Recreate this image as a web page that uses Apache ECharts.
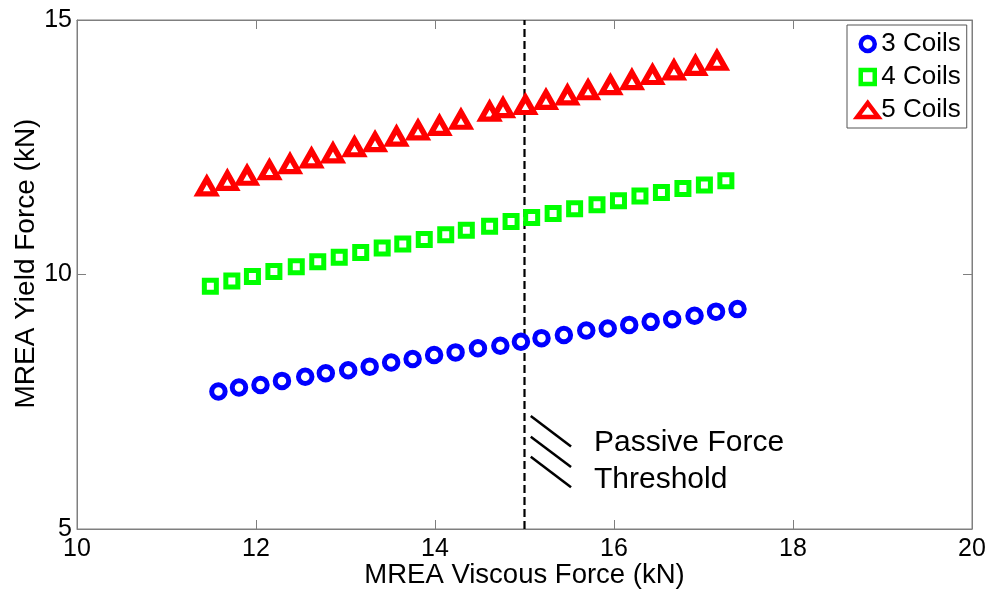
<!DOCTYPE html>
<html>
<head>
<meta charset="utf-8">
<title>MREA Yield vs Viscous Force</title>
<script src="https://cdn.jsdelivr.net/npm/echarts@6/dist/echarts.min.js"></script>
<style>
  html, body { margin: 0; padding: 0; background: #fff; }
  #chart { width: 992px; height: 593px; }
</style>
</head>
<body>
<div id="chart"></div>
<script>
// values (kN)
const coils3X = [11.58, 11.81, 12.05, 12.29, 12.55, 12.78, 13.03, 13.27, 13.51, 13.75, 13.99, 14.23, 14.48, 14.73, 14.96, 15.19, 15.44, 15.69, 15.93, 16.17, 16.41, 16.65, 16.90, 17.14, 17.38]
const coils3Y = [7.70, 7.78, 7.83, 7.91, 7.99, 8.06, 8.12, 8.19, 8.27, 8.34, 8.42, 8.47, 8.55, 8.60, 8.68, 8.75, 8.81, 8.90, 8.94, 9.01, 9.07, 9.12, 9.19, 9.27, 9.32]

const coils4X = [11.49, 11.73, 11.96, 12.20, 12.45, 12.69, 12.93, 13.17, 13.41, 13.64, 13.88, 14.12, 14.35, 14.61, 14.85, 15.08, 15.32, 15.56, 15.81, 16.05, 16.29, 16.53, 16.77, 17.01, 17.25]
const coils4Y = [9.77, 9.87, 9.96, 10.06, 10.15, 10.25, 10.34, 10.43, 10.52, 10.60, 10.69, 10.78, 10.87, 10.95, 11.04, 11.12, 11.20, 11.29, 11.37, 11.45, 11.54, 11.61, 11.69, 11.76, 11.84]

const coils5X = [11.45, 11.68, 11.90, 12.15, 12.38, 12.62, 12.86, 13.10, 13.33, 13.57, 13.81, 14.05, 14.29, 14.61, 14.76, 15.01, 15.24, 15.48, 15.71, 15.96, 16.20, 16.43, 16.67, 16.91, 17.15]
const coils5Y = [11.73, 11.84, 11.94, 12.05, 12.17, 12.28, 12.38, 12.50, 12.60, 12.71, 12.83, 12.92, 13.04, 13.20, 13.27, 13.33, 13.43, 13.52, 13.62, 13.72, 13.82, 13.92, 14.01, 14.10, 14.20]

const seriesNames = ['3 Coils', '4 Coils', '5 Coils']
const thresholdX = 15
const xTicks = [10, 12, 14, 16, 18, 20]
const yTicks = [5, 10, 15]

// little hatch marks next to the threshold note
const hatchLines = [
  [[15.07, 7.22], [15.52, 6.62]],
  [[15.07, 6.81], [15.52, 6.22]],
  [[15.07, 6.42], [15.52, 5.82]]
]

const zip = (xs, ys) => xs.map((x, i) => [x, ys[i]])

const font = 'Liberation Sans, Arial, sans-serif'
const axisGray = '#7f7f7f'

const chart = echarts.init(document.getElementById('chart'))

const hatchSeries = hatchLines.map(seg => ({
  type: 'line',
  data: seg,
  symbol: 'none',
  silent: true,
  lineStyle: { color: '#000', width: 2.5 },
  z: 1
}))

chart.setOption({
  animation: false,
  textStyle: { fontFamily: font },
  grid: {
    left: 77, right: 20, top: 20, bottom: 64,
    outerBoundsMode: 'none',
    show: true, borderColor: axisGray, borderWidth: 1
  },
  legend: {
    data: [
      { name: seriesNames[0] },
      { name: seriesNames[1], icon: 'path://M0,0h10v10h-10z' },
      { name: seriesNames[2] }
    ],
    orient: 'vertical',
    left: 847,
    top: 25,
    padding: [6, 6, 5, 8],
    itemGap: 7,
    itemWidth: 21,
    itemHeight: 14,
    borderColor: '#555',
    borderWidth: 1,
    backgroundColor: '#fff',
    itemStyle: { borderWidth: 4.5 },
    textStyle: { fontSize: 26, color: '#000', fontFamily: font, padding: [0, 0, 0, -2] }
  },
  graphic: [
    {
      type: 'text',
      left: 594,
      top: 428,
      style: { text: 'Passive Force', fontSize: 30, fontFamily: font, fill: '#000' }
    },
    {
      type: 'text',
      left: 594,
      top: 465,
      style: { text: 'Threshold', fontSize: 30, fontFamily: font, fill: '#000' }
    }
  ],
  xAxis: [
    {
      type: 'value',
      min: xTicks[0],
      max: xTicks[xTicks.length - 1],
      interval: 2,
      name: 'MREA Viscous Force (kN)',
      nameLocation: 'middle',
      nameGap: 32,
      nameMoveOverlap: false,
      nameTextStyle: { fontSize: 27.5, color: '#000', fontFamily: font },
      axisLine: { lineStyle: { color: axisGray } },
      axisTick: { inside: true, length: 9, lineStyle: { color: axisGray } },
      axisLabel: { fontSize: 25, color: '#000', margin: 8, fontFamily: font },
      splitLine: { show: false }
    },
    {
      type: 'value',
      position: 'top',
      min: xTicks[0],
      max: xTicks[xTicks.length - 1],
      interval: 2,
      axisLine: { lineStyle: { color: axisGray } },
      axisTick: { inside: true, length: 9, lineStyle: { color: axisGray } },
      axisLabel: { show: false },
      splitLine: { show: false }
    }
  ],
  yAxis: [
    {
      type: 'value',
      min: yTicks[0],
      max: yTicks[yTicks.length - 1],
      interval: 5,
      name: 'MREA Yield Force (kN)',
      nameLocation: 'middle',
      nameGap: 37,
      nameMoveOverlap: false,
      nameTextStyle: { fontSize: 28, color: '#000', fontFamily: font, padding: [0, 0, 0, 22] },
      axisLine: { show: true, lineStyle: { color: axisGray } },
      axisTick: { show: true, inside: true, length: 9, lineStyle: { color: axisGray } },
      axisLabel: { fontSize: 25, color: '#000', margin: 5, fontFamily: font },
      splitLine: { show: false }
    },
    {
      type: 'value',
      position: 'right',
      min: yTicks[0],
      max: yTicks[yTicks.length - 1],
      interval: 5,
      axisLine: { show: true, lineStyle: { color: axisGray } },
      axisTick: { show: true, inside: true, length: 9, lineStyle: { color: axisGray } },
      axisLabel: { show: false },
      splitLine: { show: false }
    }
  ],
  series: [
    {
      name: seriesNames[0],
      type: 'scatter',
      data: zip(coils3X, coils3Y),
      symbol: 'circle',
      symbolSize: 13.5,
      itemStyle: { color: '#fff', borderColor: '#0000ff', borderWidth: 5, opacity: 1 },
      z: 3
    },
    {
      name: seriesNames[1],
      type: 'scatter',
      data: zip(coils4X, coils4Y),
      symbol: 'rect',
      symbolSize: 12,
      itemStyle: { color: '#fff', borderColor: '#00ff00', borderWidth: 5, opacity: 1 },
      z: 3
    },
    {
      name: seriesNames[2],
      type: 'scatter',
      data: zip(coils5X, coils5Y),
      symbol: 'triangle',
      symbolSize: [17, 15],
      itemStyle: { color: '#fff', borderColor: '#ff0000', borderWidth: 5.5, opacity: 1 },
      z: 3
    },
    {
      type: 'line',
      data: [[thresholdX, yTicks[0]], [thresholdX, yTicks[yTicks.length - 1]]],
      symbol: 'none',
      silent: true,
      lineStyle: { color: '#000', width: 2.2, type: [8, 4] },
      z: 2
    },
    ...hatchSeries
  ]
})
</script>
</body>
</html>
